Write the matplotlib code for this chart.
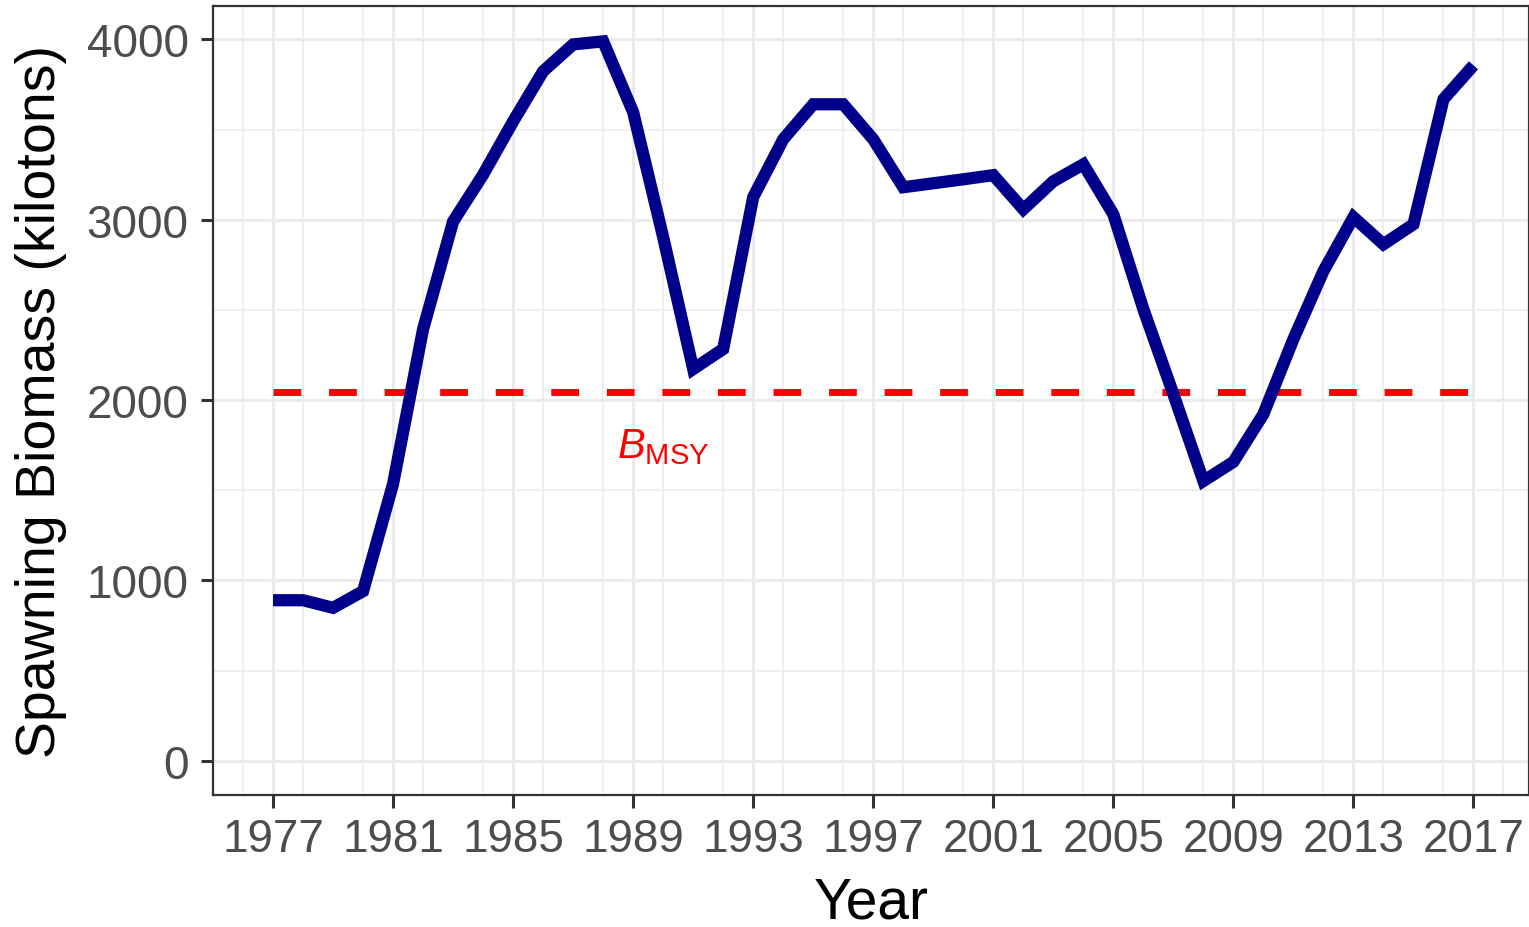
import matplotlib
matplotlib.use("Agg")
import matplotlib.pyplot as plt
from matplotlib.ticker import MultipleLocator

plt.rcParams['font.family'] = ['Liberation Sans', 'DejaVu Sans']
plt.rcParams['mathtext.fontset'] = 'custom'
plt.rcParams['mathtext.rm'] = 'Liberation Sans'
plt.rcParams['mathtext.it'] = 'Liberation Sans:italic'

# spawning biomass by year (kilotons)
years = list(range(1977, 2018))
biomass = [890, 890, 848, 940, 1535, 2393, 2990, 3250, 3545, 3823,
           3972, 3989, 3596, 2903, 2172, 2283, 3125, 3446, 3640, 3640,
           3446, 3180, 3202, 3224, 3247, 3058, 3213, 3307, 3030, 2504,
           2033, 1551, 1657, 1922, 2338, 2715, 3014, 2864, 2975, 3668,
           3856]
bmsy = 2044
xticks = list(range(1977, 2018, 4))
yticks = [0, 1000, 2000, 3000, 4000]

fig = plt.figure(figsize=(15.29, 9.28), dpi=100)
ax = fig.add_axes([213 / 1529, 1 - 796 / 928, 1 - 213 / 1529, (796 - 7) / 928])

ax.plot(years, biomass, color='#00008B', lw=8.8, solid_joinstyle='miter',
        solid_capstyle='butt', zorder=3)
ax.plot([years[0], years[-1]], [bmsy, bmsy], color='red', lw=5,
        dashes=(4, 4), dash_capstyle='butt', zorder=2)
ax.text(1990, 1745, r'$B_{\mathrm{MSY}}$', color='red', fontsize=30,
        ha='center', va='center')

ax.set_xlim(1975, 2018.85)
ax.set_ylim(-190, 4185)
ax.set_xticks(xticks)
ax.set_yticks(yticks)
ax.xaxis.set_minor_locator(MultipleLocator(2))
ax.yaxis.set_minor_locator(MultipleLocator(500))
ax.grid(which='major', color='#EBEBEB', lw=2.2, zorder=0)
ax.grid(which='minor', color='#EBEBEB', lw=1.1, zorder=0)
ax.set_axisbelow(True)

ax.tick_params(which='major', length=9, width=2.2, color='#333333',
               labelsize=33, labelcolor='#4D4D4D')
ax.tick_params(axis='x', pad=7)
ax.tick_params(axis='y', pad=8.5)
ax.tick_params(which='minor', length=0)
for s in ax.spines.values():
    s.set_color('#333333')
    s.set_linewidth(1.6)

ax.set_xlabel('Year', fontsize=41, labelpad=10)
ax.set_ylabel('Spawning Biomass (kilotons)', fontsize=40, labelpad=14)

fig.savefig('out.png', dpi=100)
